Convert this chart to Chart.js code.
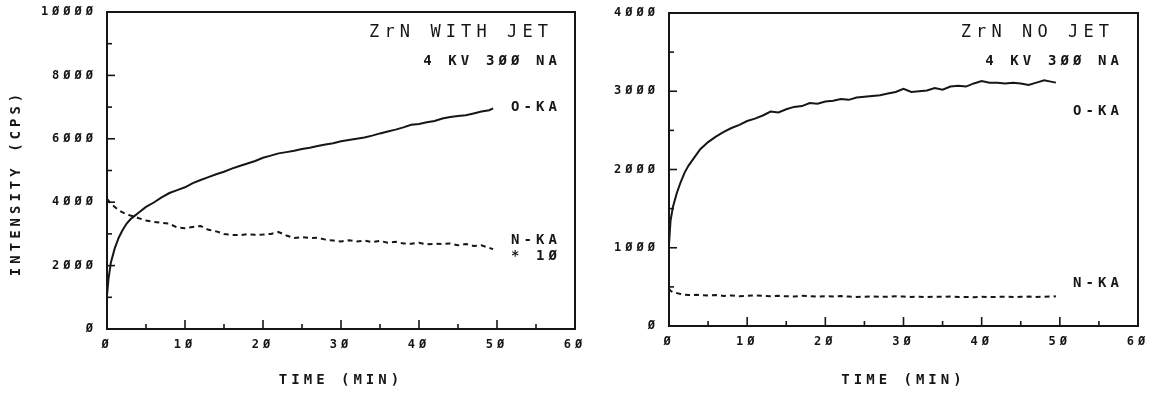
<!DOCTYPE html>
<html lang="en">
<head>
<meta charset="UTF-8">
<title>ZrN intensity vs time</title>
<script src="https://cdn.jsdelivr.net/npm/chart.js"></script>
<style>
  body { margin: 0; background: #fff; }
  .panel { position: absolute; top: 0; height: 393px; }
  #left-panel { left: 0; width: 585px; }
  #right-panel { left: 585px; width: 573px; }
</style>
</head>
<body>
<div class="panel" id="left-panel"><canvas id="jetChart"></canvas></div>
<div class="panel" id="right-panel"><canvas id="noJetChart"></canvas></div>
<script>
// time (min), shared by all four traces
const TIME = [0, 0.2, 0.5, 1, 1.5, 2, 2.5, 3, 3.5, 4, 5, 6, 7, 8, 9, 10, 11, 12, 13, 14, 15, 16, 17, 18, 19, 20,
  21, 22, 23, 24, 25, 26, 27, 28, 29, 30, 31, 32, 33, 34, 35, 36, 37, 38, 39, 40,
  41, 42, 43, 44, 45, 46, 47, 48, 49, 49.5];

// ZrN with jet (cps)
const OKA_JET = [1050, 1600, 2100, 2550, 2880, 3120, 3320, 3460, 3560, 3660, 3850, 3990, 4150, 4290, 4380, 4470,
  4600, 4700, 4790, 4880, 4960, 5060, 5140, 5220, 5300, 5400, 5470, 5540, 5580, 5620, 5680, 5720, 5770, 5820,
  5860, 5920, 5960, 6000, 6040, 6100, 6170, 6230, 6290, 6360, 6440, 6470, 6520, 6560, 6640, 6690, 6720, 6740,
  6800, 6860, 6900, 6960];
// N-KA already multiplied by 10, as plotted
const NKA_JET_X10 = [4100, 4050, 3950, 3850, 3750, 3680, 3620, 3580, 3550, 3500, 3420, 3380, 3350, 3320, 3200,
  3180, 3220, 3250, 3130, 3080, 3000, 2970, 2960, 2990, 2970, 2980, 3000, 3060, 2950, 2870, 2900, 2870, 2880,
  2820, 2790, 2760, 2800, 2760, 2790, 2740, 2780, 2720, 2750, 2700, 2690, 2720, 2670, 2690, 2680, 2700, 2640,
  2680, 2620, 2640, 2560, 2520];

// ZrN no jet (cps)
const OKA_NOJET = [1050, 1350, 1520, 1700, 1840, 1960, 2050, 2120, 2190, 2260, 2350, 2420, 2480, 2530, 2570,
  2620, 2650, 2690, 2740, 2730, 2770, 2800, 2810, 2850, 2840, 2870, 2880, 2900, 2890, 2920, 2930, 2940, 2950,
  2970, 2990, 3030, 2990, 3000, 3010, 3040, 3020, 3060, 3070, 3060, 3100, 3130, 3110, 3110, 3100, 3110, 3100,
  3080, 3110, 3140, 3120, 3110];
const NKA_NOJET = [480, 450, 430, 420, 410, 400, 395, 395, 400, 395, 390, 395, 385, 390, 380, 385, 390, 385,
  380, 385, 380, 378, 385, 380, 375, 380, 378, 382, 376, 372, 375, 378, 372, 375, 380, 376, 372, 375, 370, 374,
  372, 376, 370, 372, 368, 374, 370, 372, 375, 370, 373, 376, 372, 375, 380, 378];

const INK = '#161616';
const MONO = "'DejaVu Sans Mono', monospace";

// plotter style zero with a slash
const slashZero = v => String(v).replace(/0/g, 'Ø');

const toPoints = vals => vals.map((v, i) => ({ x: TIME[i], y: v }));

// frame box, inward tick marks and the text notes
const plotterFrame = {
  id: 'plotterFrame',
  beforeDraw(chart) {
    chart.ctx.letterSpacing = '4px';
  },
  afterDatasetsDraw(chart, args, opts) {
    const { ctx, chartArea: a, scales: { x, y } } = chart;
    ctx.save();
    ctx.strokeStyle = INK;
    ctx.lineWidth = 2;
    ctx.strokeRect(a.left, a.top, a.right - a.left, a.bottom - a.top);

    ctx.lineWidth = 1.6;
    for (let v = x.min; v <= x.max; v += opts.xStep) {
      const px = x.getPixelForValue(v);
      const len = v % opts.xMajor === 0 ? 9 : 5;
      ctx.beginPath();
      ctx.moveTo(px, a.bottom);
      ctx.lineTo(px, a.bottom - len);
      ctx.stroke();
    }
    for (let v = y.min; v <= y.max; v += opts.yStep) {
      const py = y.getPixelForValue(v);
      const len = v % opts.yMajor === 0 ? 8 : 5;
      ctx.beginPath();
      ctx.moveTo(a.left, py);
      ctx.lineTo(a.left + len, py);
      ctx.stroke();
    }

    ctx.fillStyle = INK;
    ctx.textAlign = 'right';
    ctx.textBaseline = 'middle';
    opts.notes.forEach(n => {
      ctx.font = n.font;
      ctx.letterSpacing = n.spacing + 'px';
      ctx.fillText(n.text, a.right + n.dx + n.spacing, a.top + n.dy);
    });
    ctx.restore();
  }
};

function makePanel(canvasId, p) {
  const ctx = document.getElementById(canvasId).getContext('2d');
  return new Chart(ctx, {
    type: 'line',
    data: {
      datasets: [{
        label: 'O-KA',
        data: toPoints(p.oka),
        borderColor: INK,
        borderWidth: 2,
        pointRadius: 0,
        tension: 0
      }, {
        label: 'N-KA',
        data: toPoints(p.nka),
        borderColor: INK,
        borderWidth: 2,
        borderDash: [5, 4],
        pointRadius: 0,
        tension: 0
      }]
    },
    options: {
      responsive: true,
      maintainAspectRatio: false,
      animation: false,
      layout: { padding: { top: p.top, right: p.right, left: 0, bottom: 0 } },
      scales: {
        x: {
          type: 'linear',
          min: 0,
          max: 60,
          grid: { display: false, drawTicks: false },
          border: { display: false },
          ticks: {
            stepSize: 10,
            autoSkip: false,
            maxRotation: 0,
            padding: 9,
            color: INK,
            font: { family: MONO, size: 12, weight: 'bold' },
            callback: slashZero
          },
          title: {
            display: true,
            text: 'TIME (MIN)',
            color: INK,
            padding: { top: 0, bottom: 4 },
            font: { family: MONO, size: 14, weight: 'bold' }
          },
          afterFit(scale) {
            scale.height = p.xHeight;
            scale.paddingLeft = 0;
            scale.paddingRight = 0;
          }
        },
        y: {
          min: 0,
          max: p.yMax,
          grid: { display: false, drawTicks: false },
          border: { display: false },
          ticks: {
            stepSize: p.yLabelStep,
            padding: 10,
            color: INK,
            font: { family: MONO, size: 12, weight: 'bold' },
            callback: slashZero
          },
          title: {
            display: p.yTitle,
            text: 'INTENSITY (CPS)  ',
            color: INK,
            padding: { top: 8, bottom: 0 },
            font: { family: MONO, size: 14, weight: 'bold' }
          },
          afterFit(scale) {
            scale.width = p.yWidth;
            scale.paddingTop = 0;
            scale.paddingBottom = 0;
          }
        }
      },
      plugins: {
        legend: { display: false },
        tooltip: { enabled: false },
        plotterFrame: {
          xStep: 5, xMajor: 10,
          yStep: p.yTickStep, yMajor: p.yLabelStep,
          notes: p.notes
        }
      }
    },
    plugins: [plotterFrame]
  });
}

const TITLE_FONT = "17px " + MONO;
const NOTE_FONT = "bold 14px " + MONO;

makePanel('jetChart', {
  oka: OKA_JET, nka: NKA_JET_X10,
  yMax: 10000, yLabelStep: 2000, yTickStep: 1000,
  top: 12, right: 10, yWidth: 107, xHeight: 64, yTitle: true,
  notes: [
    { text: 'ZrN WITH JET', font: TITLE_FONT, spacing: 5.1, dx: -27, dy: 21 },
    { text: '4 KV 3ØØ NA', font: NOTE_FONT, spacing: 4.1, dx: -18, dy: 49 },
    { text: 'O-KA', font: NOTE_FONT, spacing: 4.1, dx: -18, dy: 95 },
    { text: 'N-KA', font: NOTE_FONT, spacing: 4.1, dx: -18, dy: 228 },
    { text: '* 1Ø', font: NOTE_FONT, spacing: 4.1, dx: -18, dy: 244 }
  ]
});

makePanel('noJetChart', {
  oka: OKA_NOJET, nka: NKA_NOJET,
  yMax: 4000, yLabelStep: 1000, yTickStep: 500,
  top: 13, right: 20, yWidth: 84, xHeight: 67, yTitle: false,
  notes: [
    { text: 'ZrN NO JET', font: TITLE_FONT, spacing: 5.1, dx: -29, dy: 20 },
    { text: '4 KV 3ØØ NA', font: NOTE_FONT, spacing: 4.1, dx: -19, dy: 48 },
    { text: 'O-KA', font: NOTE_FONT, spacing: 4.1, dx: -19, dy: 98 },
    { text: 'N-KA', font: NOTE_FONT, spacing: 4.1, dx: -19, dy: 270 }
  ]
});
</script>
</body>
</html>
